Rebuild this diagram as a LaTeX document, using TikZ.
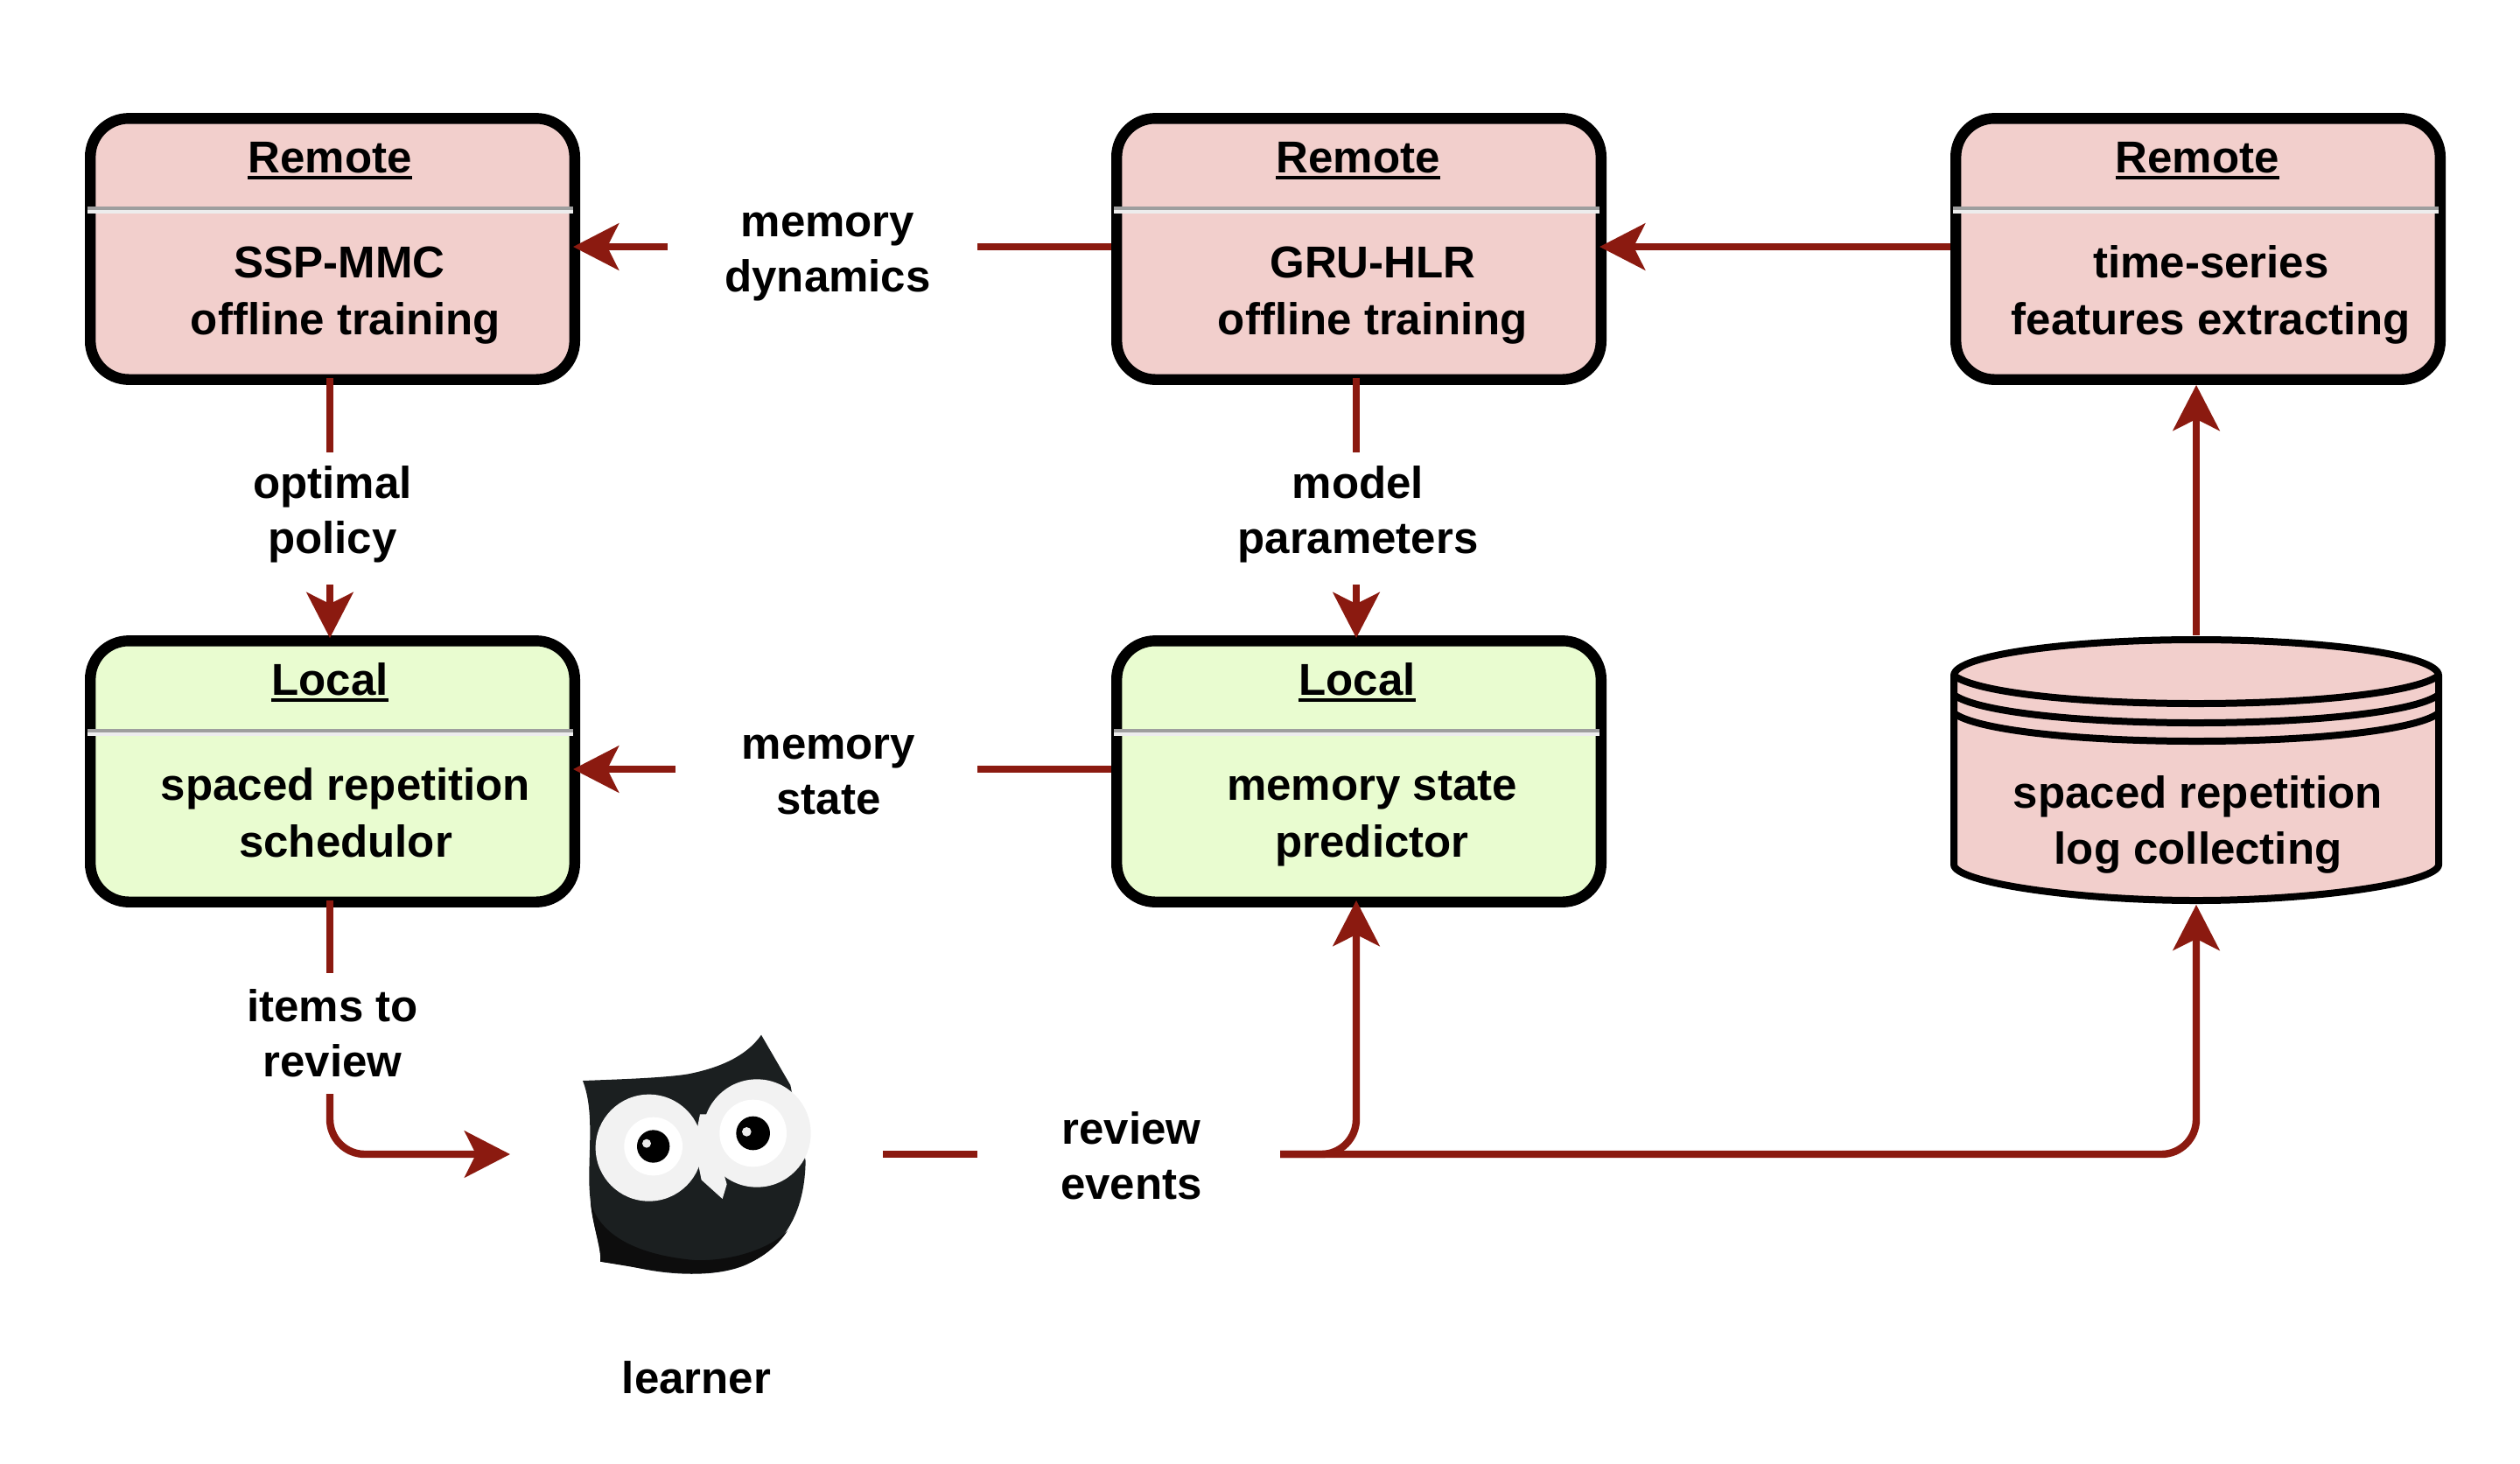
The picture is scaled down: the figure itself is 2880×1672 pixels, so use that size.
\documentclass[tikz,border=0pt]{standalone}
\usepackage{fontspec}
\setmainfont{Liberation Sans}
\usetikzlibrary{calc,arrows.meta}
\definecolor{rem}{HTML}{F2CFCC}
\definecolor{loc}{HTML}{E9FCD0}
\definecolor{conn}{HTML}{8B1A10}
\definecolor{owlb}{HTML}{1B1F20}
\tikzset{
  x=0.25pt,y=-0.25pt,
  box/.style={draw=black,line width=3.1pt,rounded corners=11pt,minimum width=138.4pt,minimum height=74.6pt,inner sep=0pt},
  remote/.style={box,fill=rem},
  local/.style={box,fill=loc},
  txt/.style={font=\fontsize{12.75}{15.75}\selectfont\bfseries,anchor=base,inner sep=0pt,outer sep=0pt,align=center},
  boxtxt/.style={txt,font=\fontsize{12.75}{16.25}\selectfont\bfseries},
  line/.style={draw=conn,line width=2.1pt},
  arrow/.style={line,-{Stealth[length=13pt,width=13.25pt,inset=3.25pt]}},
  bent/.style={arrow,rounded corners=10pt},
  cyl/.style={draw=black,line width=2pt,fill=rem},
  cylc/.style={draw=black,line width=2pt},
}
\newcommand\hd[1]{\setbox0\hbox{#1}\leavevmode\rlap{\vrule width\wd0 height -1.05pt depth 1.95pt}\box0 }
\newcommand\sepline[1]{%
  \fill[color=black!38] ($(#1.north west)+(3,107)$) rectangle ($(#1.north east)+(-8,111)$);
  \fill[color=black!7] ($(#1.north west)+(3,111)$) rectangle ($(#1.north east)+(-8,115)$);}
\begin{document}
\begin{tikzpicture}
\useasboundingbox (0,0) rectangle (2880,1672);
% boxes
\node[remote] (ssp) at (380,284.5) {};
\node[remote] (gru) at (1553,284.5) {};
\node[remote] (tsf) at (2512,284.5) {};
\node[local] (sch) at (380,881.5) {};
\node[local] (pred) at (1553,881.5) {};
\sepline{ssp}\sepline{gru}\sepline{tsf}\sepline{sch}\sepline{pred}
% box texts
\node[txt] (h1) at (377,197) {\hd{Remote}};
\node[txt] (h2) at (1552,197) {\hd{Remote}};
\node[txt] (h3) at (2511,197) {\hd{Remote}};
\node[txt] (h4) at (377,794) {\hd{Local}};
\node[txt] (h5) at (1551,794) {\hd{Local}};
\node[boxtxt] (t1) at (395,382) {SSP-MMC\hspace*{3.5pt}\\offline training};
\node[boxtxt] (t2) at (1569,382) {GRU-HLR\\offline training};
\node[boxtxt] (t3) at (2527,382) {time-series\\features extracting};
\node[boxtxt] (t4) at (395,979) {spaced repetition\\schedulor};
\node[boxtxt] (t5) at (1568,979) {memory state\\predictor};
% database
\node[inner sep=0pt,minimum width=140.5pt,minimum height=76.5pt] (db) at (2510,880) {};
\path[cyl] (2233,772) .. controls (2233,748) and (2370,731) .. (2510,731)
  .. controls (2650,731) and (2787,748) .. (2787,772)
  -- (2787,988) .. controls (2787,1008) and (2650,1029) .. (2510,1029)
  .. controls (2370,1029) and (2233,1008) .. (2233,988) -- cycle;
\draw[cylc] (2233,772) .. controls (2260,792) and (2380,804) .. (2510,804) .. controls (2640,804) and (2760,792) .. (2787,772);
\draw[cylc] (2233,794) .. controls (2260,814) and (2380,826) .. (2510,826) .. controls (2640,826) and (2760,814) .. (2787,794);
\draw[cylc] (2233,815) .. controls (2260,835) and (2380,847) .. (2510,847) .. controls (2640,847) and (2760,835) .. (2787,815);
\node[txt,font=\fontsize{12.75}{16}\selectfont\bfseries] (t6) at (2512,987) {spaced repetition\\log collecting};
% owl
\node[inner sep=0pt,outer sep=0pt,minimum width=106.5pt,minimum height=60pt] (owl) at (796,1319) {};
\begin{scope}[shift={(560,1140)},x=0.08333pt,y=-0.08333pt]
  \fill[owlb] (318,285) .. controls (450,280) and (600,275) .. (680,262)
    .. controls (790,240) and (880,200) .. (930,128)
    -- (1030,300) -- (1082,560)
    .. controls (1080,720) and (1020,850) .. (880,915)
    .. controls (780,960) and (610,955) .. (470,918)
    -- (378,905) .. controls (385,860) and (340,760) .. (340,620)
    .. controls (340,500) and (355,380) .. cycle;
  \fill[black!95] (345,700) .. controls (370,800) and (480,880) .. (700,900)
    .. controls (830,905) and (960,860) .. (1020,800)
    .. controls (960,890) and (850,948) .. (700,945)
    .. controls (600,945) and (500,925) .. (378,905)
    .. controls (385,860) and (350,780) .. cycle;
  \fill[black!5] (545,515) circle [radius=183];
  \fill[black!5] (915,465) circle [radius=185];
  \fill[black!5] (720,400) -- (745,400) -- (812,640) -- (797,690) -- (725,625) -- (700,500) -- cycle;
  \fill[white] (560,510) circle [radius=100];
  \fill[white] (902,465) circle [radius=115];
  \fill[black] (560,510) circle [radius=56];
  \fill[black] (902,465) circle [radius=58];
  \fill[black!8] (537,500) circle [radius=15];
  \fill[black!8] (880,460) circle [radius=16];
\end{scope}
\node[txt] (learner) at (796,1592) {learner};
% labels
\node[txt] (l1) at (946,333) {memory\\dynamics};
\node[txt] (l2) at (380,632) {optimal\\policy};
\node[txt] (l3) at (1552,632) {model\\parameters};
\node[txt] (l4) at (947,930) {memory\\state};
\node[txt] (l5) at (380,1230) {items to\\review};
\node[txt] (l6) at (1293,1370) {review\\events};
% connector free ends
\coordinate (a1) at (763,282);
\coordinate (a2) at (1117,282);
\coordinate (b1) at (772,879);
\coordinate (b2) at (1117,879);
\coordinate (c1) at (377,517);
\coordinate (c2) at (377,668);
\coordinate (d1) at (1550,517);
\coordinate (d2) at (1550,668);
\coordinate (e1) at (377,1112);
\coordinate (e2) at (377,1250);
\coordinate (f1) at (1117,1319);
\coordinate (f2) at (1463,1319);
% connectors
\draw[line] ($(gru.west)+(0,-2.5)$) -- (a2);
\draw[arrow] (a1) -- ($(ssp.east)+(-8,-2.5)$);
\draw[arrow] ($(tsf.west)+(0,-2.5)$) -- ($(gru.east)+(-8,-2.5)$);
\draw[line] ($(pred.west)+(0,-2.5)$) -- (b2);
\draw[arrow] (b1) -- ($(sch.east)+(-8,-2.5)$);
\draw[line] ($(ssp.south)+(-3,-8)$) -- (c1);
\draw[arrow] (c2) -- ($(sch.north)+(-3,3)$);
\draw[line] ($(gru.south)+(-3,-8)$) -- (d1);
\draw[arrow] (d2) -- ($(pred.north)+(-3,3)$);
\draw[line] ($(sch.south)+(-3,-8)$) -- (e1);
\draw[bent] (e2) |- (owl.west);
\draw[line] (owl.east) -- (f1);
\draw[bent] (f2) -| ($(pred.south)+(-3,-8)$);
\draw[bent] (f2) -| (db.south);
\draw[arrow] (db.north) -- (db.north |- tsf.south);
\end{tikzpicture}
\end{document}
